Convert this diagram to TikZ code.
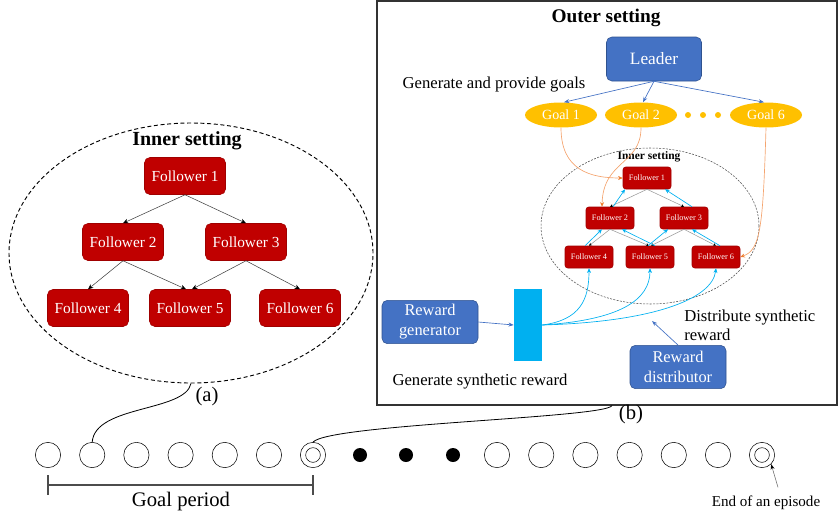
\documentclass[tikz,border=0pt]{standalone}
\usepackage{fontspec}
\setmainfont{Liberation Serif}
\usepackage{tikz}
\usetikzlibrary{arrows.meta}
\usetikzlibrary{shapes.geometric}
\usetikzlibrary{calc}

\definecolor{leaderblue}{HTML}{4472C4}
\definecolor{leaderedge}{HTML}{2F528F}
\definecolor{followred}{HTML}{C00000}
\definecolor{followedge}{HTML}{A00000}
\definecolor{goalyellow}{HTML}{FFC000}
\definecolor{rewardcyan}{HTML}{00B0F0}
\definecolor{goalorange}{HTML}{F4A46F}
\definecolor{tiporange}{HTML}{ED7D31}

\tikzset{
  bigfollower/.style={rectangle,rounded corners=4pt,fill=followred,draw=followedge,
    text=white,minimum width=60.75pt,minimum height=27.75pt,inner sep=0pt,
    font=\fontsize{11.5}{12}\selectfont},
  smallfollower/.style={rectangle,rounded corners=2pt,fill=followred,draw=followedge,
    text=white,minimum width=36pt,minimum height=16.5pt,inner sep=0pt,
    font=\fontsize{6.2}{7}\selectfont},
  bluebox/.style={rectangle,rounded corners=4pt,fill=leaderblue,draw=leaderedge,
    text=white,minimum width=72pt,minimum height=32.5pt,inner sep=0pt,align=center,
    font=\fontsize{12.3}{15}\selectfont},
  goal/.style={ellipse,fill=goalyellow,text=white,minimum width=54pt,minimum height=18.75pt,
    inner sep=0pt,font=\fontsize{10.5}{11}\selectfont},
  goaldot/.style={circle,fill=goalyellow,minimum size=4.5pt,inner sep=0pt},
  slot/.style={circle,draw,minimum size=19pt,inner sep=0pt},
  innerslot/.style={circle,draw,minimum size=11pt,inner sep=0pt},
  skipped/.style={circle,fill=black,minimum size=10.5pt,inner sep=0pt},
  treearrow/.style={draw=black!75,line width=0.4pt,-{Stealth[length=4pt,width=3.5pt,color=black]}},
  smalltree/.style={draw=black!40,line width=0.4pt,-{Stealth[length=2.2pt,width=2.2pt,color=black]}},
  upcyan/.style={draw=rewardcyan,line width=0.5pt,-{Stealth[length=3.5pt,width=3pt]}},
  goalline/.style={draw=goalorange,line width=0.5pt,-{Stealth[length=3.5pt,width=3pt,color=tiporange]}},
  bluearrow/.style={draw=leaderblue,line width=0.5pt,-{Stealth[length=4pt,width=3pt]}},
  title/.style={font=\fontsize{15}{16}\selectfont\bfseries},
  plain/.style={font=\fontsize{12.5}{14.25}\selectfont}
}

\begin{document}
\begin{tikzpicture}[x=0.75pt,y=-0.75pt]
  \useasboundingbox (0,0) rectangle (838,518);

  \node[ellipse,draw,dash pattern=on 3pt off 2pt,line width=0.7pt,
    minimum width=273pt,minimum height=195pt] (innerL) at (191,253) {};
  \node[title] (innerLtitle) at (187,141) {Inner setting};
  \node[bigfollower] (L1) at (185,176) {Follower 1};
  \node[bigfollower] (L2) at (123,242) {Follower 2};
  \node[bigfollower] (L3) at (246,242) {Follower 3};
  \node[bigfollower] (L4) at (88,308) {Follower 4};
  \node[bigfollower] (L5) at (190,308) {Follower 5};
  \node[bigfollower] (L6) at (300,308) {Follower 6};
  \draw[treearrow] (L1.south) -- (L2.north);
  \draw[treearrow] (L1.south) -- (L3.north);
  \draw[treearrow] (L2.south) -- (L4.north);
  \draw[treearrow] (L2.south) -- ($(L5.north)+(-4,0)$);
  \draw[treearrow] (L3.south) -- ($(L5.north)+(2,0)$);
  \draw[treearrow] (L3.south) -- (L6.north);
  \node[font=\fontsize{15.5}{16}\selectfont] (labela) at (207,397) {(a)};

  \node[draw=black!80,line width=0.9pt,minimum width=345pt,minimum height=303pt,
    inner sep=0pt] (outer) at (607,203) {};
  \node[font=\fontsize{14.5}{16}\selectfont\bfseries] (outertitle) at (606,18) {Outer setting};
  \node[bluebox,minimum width=71.25pt,minimum height=33pt,font=\fontsize{13}{15}\selectfont] (leader) at (654,59) {Leader};
  \node[plain] (provide) at (494,85) {Generate and provide goals};
  \node[goal] (g1) at (561,115) {Goal 1};
  \node[goal] (g2) at (641,115) {Goal 2};
  \node[goal] (g6) at (766,115) {Goal 6};
  \foreach \i/\x in {1/688,2/703,3/718}
    \node[goaldot] (gd\i) at (\x,115) {};
  \draw[bluearrow] (leader.south) -- ($(g1.north)+(3,0)$);
  \draw[bluearrow] (leader.south) -- ($(g2.north)+(2,0)$);
  \draw[bluearrow] (leader.south) -- ($(g6.north)+(-2,0)$);

  \node[ellipse,draw=black!70,dash pattern=on 1.5pt off 1pt,line width=0.4pt,
    minimum width=163.5pt,minimum height=117pt] (innerR) at (650,226) {};
  \node[font=\fontsize{8.6}{9}\selectfont\bfseries] (innerRtitle) at (649,157) {Inner setting};
  \node[smallfollower] (R1) at (647,178) {Follower 1};
  \node[smallfollower] (R2) at (610,218) {Follower 2};
  \node[smallfollower] (R3) at (684,218) {Follower 3};
  \node[smallfollower] (R4) at (589,257) {Follower 4};
  \node[smallfollower] (R5) at (650,257) {Follower 5};
  \node[smallfollower] (R6) at (716,257) {Follower 6};
  \draw[smalltree] (R1.south) -- (R2.north);
  \draw[smalltree] (R1.south) -- (R3.north);
  \draw[smalltree] (R2.south) -- (R4.north);
  \draw[smalltree] (R2.south) -- ($(R5.north)+(-1,0)$);
  \draw[smalltree] (R3.south) -- ($(R5.north)+(1,0)$);
  \draw[smalltree] (R3.south) -- (R6.north);
  \draw[upcyan] ($(R2.north)+(3,0)$) -- ($(R1.south)+(-22,0)$);
  \draw[upcyan] ($(R3.north)+(8,0)$) -- ($(R1.south)+(18,0)$);
  \draw[upcyan] ($(R4.north)+(-4,0)$) -- ($(R2.south)+(-8,0)$);
  \draw[upcyan] ($(R5.north)+(5,0)$) -- ($(R2.south)+(12,0)$);
  \draw[upcyan] ($(R5.north)+(-2,0)$) -- ($(R3.south)+(-16,0)$);
  \draw[upcyan] ($(R6.north)+(4,0)$) -- ($(R3.south)+(8,0)$);
  \draw[goalline] (g1.south) .. controls (561,170) and (590,178) .. (R1.west);
  \draw[goalline] (g2.south) .. controls (641,165) and (603,160) .. ($(R2.north)+(-8,0)$);
  \draw[goalline] (g6.south) .. controls (763,230) and (760,250) .. (R6.east);

  \node[bluebox] (gen) at (430,322) {Reward\\generator};
  \node[rectangle,fill=rewardcyan,minimum width=21pt,minimum height=54pt,inner sep=0pt] (bar) at (528,325) {};
  \draw[bluearrow] (gen.east) -- (bar.west);
  \draw[upcyan] (bar.east) .. controls (580,320) and (589,300) .. (R4.south);
  \draw[upcyan] (bar.east) .. controls (620,320) and (650,300) .. (R5.south);
  \draw[upcyan] (bar.east) .. controls (650,322) and (712,300) .. (R6.south);
  \node[plain] (genlabel) at (480,382) {Generate synthetic reward};
  \node[bluebox] (dist) at (678,367) {Reward\\distributor};
  \coordinate (distend) at (652,321);
  \draw[bluearrow] (dist.north) -- (distend);
  \node[plain,anchor=west,align=left,inner sep=0pt] (distlabel) at (684,325) {Distribute synthetic\\reward};
  \node[font=\fontsize{15.5}{16}\selectfont] (labelb) at (631,415) {(b)};

  \foreach \i in {1,...,6}
    \node[slot] (a\i) at ({48+44.2*(\i-1)},455) {};
  \node[slot] (a7) at (313,455) {};
  \node[innerslot] (a7in) at (a7) {};
  \foreach \i/\x in {1/360,2/406,3/453}
    \node[skipped] (b\i) at (\x,455) {};
  \foreach \i in {1,...,6}
    \node[slot] (c\i) at ({497+44.2*(\i-1)},455) {};
  \node[slot] (c7) at (762,455) {};
  \node[innerslot] (c7in) at (c7) {};

  \draw[line width=0.6pt] (innerL.south) .. controls (185,412) and (95,405) .. (a2.north);
  \draw[line width=0.6pt] ($(outer.south)+(5,0)$) .. controls (605,418) and (330,424) .. (a7.north);

  \coordinate (gp1) at (48,485);
  \coordinate (gp2) at (313,485);
  \draw[draw=black!70,line width=1.2pt] (gp1) -- (gp2);
  \draw[draw=black!70,line width=1pt] ($(gp1)+(0,-10)$) -- ($(gp1)+(0,10)$);
  \draw[draw=black!70,line width=1pt] ($(gp2)+(0,-10)$) -- ($(gp2)+(0,10)$);
  \node[font=\fontsize{15.5}{16}\selectfont] (gplabel) at (181,502) {Goal period};

  \node[font=\fontsize{11.3}{12}\selectfont] (eoe) at (766,503) {End of an episode};
  \draw[draw=black!60,line width=0.4pt,-{Stealth[length=4pt,width=3pt,color=black]}] ($(eoe.north)+(12,-4)$) -- (c7.south east);
\end{tikzpicture}
\end{document}
